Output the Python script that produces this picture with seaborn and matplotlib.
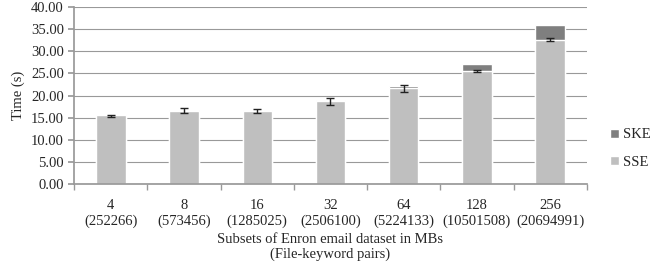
import numpy as np
import seaborn as sns
import matplotlib.pyplot as plt

sns.set_theme(style="white")
plt.rcParams['font.family'] = ['Liberation Serif', 'DejaVu Serif']

sizes = ['4', '8', '16', '32', '64', '128', '256']
pairs = ['252266', '573456', '1285025', '2506100', '5224133', '10501508', '20694991']
sse = [15.5, 16.6, 16.6, 18.8, 21.6, 25.5, 32.6]
ske = [0.15, 0.15, 0.15, 0.25, 0.6, 1.7, 3.4]
sse_err = [0.3, 0.65, 0.45, 0.75, 0.75, 0.2, 0.4]
sse_err_center = [15.4, 16.6, 16.5, 18.6, 21.6, 25.6, 32.7]

labels = ['{}\n({})'.format(s, p) for s, p in zip(sizes, pairs)]
total = [a + b for a, b in zip(sse, ske)]

fig = plt.figure(figsize=(6.69, 2.68), dpi=100)
ax = fig.add_axes([0.111, 0.313, 0.766, 0.661])

sns.barplot(x=labels, y=total, color='#7f7f7f', width=0.4, ax=ax, label='SKE', saturation=1)
sns.barplot(x=labels, y=sse, color='#bfbfbf', width=0.4, ax=ax, label='SSE', saturation=1)
ax.errorbar(np.arange(len(labels)), sse_err_center, yerr=sse_err, fmt='none',
            ecolor='#222222', elinewidth=1, capsize=3, capthick=1)

ax.set_ylim(0, 40)
ax.set_xlim(-0.5, 6.5)
ax.set_yticks(np.arange(0, 41, 5))
ax.set_yticklabels(['{:.2f}'.format(v) for v in np.arange(0, 41, 5)])
ax.yaxis.grid(True, color='#999999', linewidth=0.8)
ax.set_axisbelow(True)
for s in ['top', 'right']:
    ax.spines[s].set_visible(False)
ax.spines['left'].set_color('#999999')
ax.spines['bottom'].set_color('#999999')
ax.set_xticks(np.arange(-0.5, 7, 1), minor=True)
ax.tick_params(axis='x', which='major', length=0, labelsize=10.5, pad=11)
ax.tick_params(axis='x', which='minor', length=4, color='#999999', bottom=True)
ax.tick_params(axis='y', length=4, color='#999999', labelsize=10.5, left=True)
ax.set_ylabel('Time (s)', fontsize=10.5)
ax.set_xlabel('Subsets of Enron email dataset in MBs\n(File-keyword pairs)', fontsize=10.5,
              labelpad=3.5)

ax.legend(loc='center left', bbox_to_anchor=(1.02, 0.2), frameon=False, fontsize=10.5,
          handlelength=0.6, handleheight=0.6, handletextpad=0.3, labelspacing=1.0)

fig.savefig('out.png', dpi=100)
